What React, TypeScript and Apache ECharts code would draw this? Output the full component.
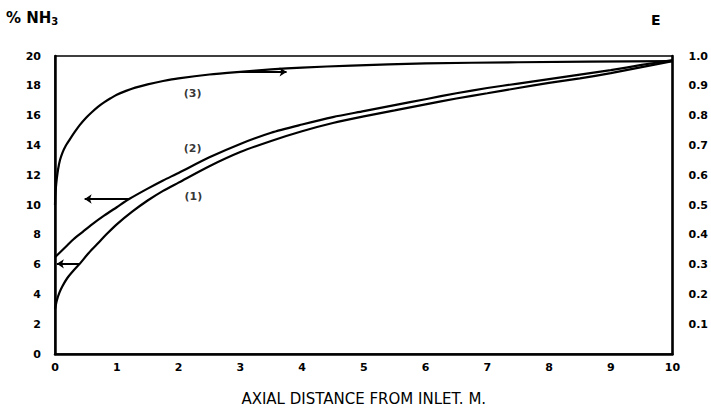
import React, { useEffect, useRef } from "react";
import * as echarts from "echarts";

// Curve (1): % NH3 vs axial distance (left axis)
const curve1: [number, number][] = [
  [0, 3.0], [0.03, 3.6], [0.07, 4.1], [0.12, 4.55], [0.2, 5.1], [0.3, 5.6], [0.4, 6.05],
  [0.55, 6.8], [0.7, 7.45], [0.85, 8.1], [1.0, 8.7], [1.25, 9.55], [1.5, 10.3],
  [1.75, 10.95], [2.0, 11.5], [2.5, 12.6], [3.0, 13.55], [3.5, 14.3], [4.0, 14.95],
  [4.5, 15.5], [5.0, 15.95], [5.5, 16.35], [6.0, 16.75], [6.5, 17.15], [7.0, 17.5],
  [7.5, 17.85], [8.0, 18.2], [8.5, 18.5], [9.0, 18.85], [9.5, 19.25], [10, 19.65],
];
// Curve (2): % NH3 vs axial distance (left axis)
const curve2: [number, number][] = [
  [0, 6.5], [0.1, 6.9], [0.2, 7.3], [0.3, 7.7], [0.45, 8.2], [0.6, 8.7], [0.8, 9.3],
  [1.0, 9.85], [1.2, 10.4], [1.5, 11.1], [1.75, 11.65], [2.0, 12.15], [2.5, 13.2],
  [3.0, 14.1], [3.5, 14.85], [4.0, 15.4], [4.5, 15.9], [5.0, 16.3], [5.5, 16.7],
  [6.0, 17.1], [6.5, 17.5], [7.0, 17.85], [7.5, 18.15], [8.0, 18.45], [8.5, 18.75],
  [9.0, 19.05], [9.5, 19.4], [10, 19.72],
];
// Curve (3): E vs axial distance (right axis)
const curve3: [number, number][] = [
  [0, 0.5], [0.005, 0.53], [0.015, 0.56], [0.03, 0.59], [0.05, 0.62], [0.08, 0.65],
  [0.12, 0.675], [0.17, 0.697], [0.24, 0.72], [0.32, 0.745], [0.4, 0.768], [0.5, 0.792],
  [0.6, 0.812], [0.7, 0.83], [0.8, 0.845], [0.9, 0.858], [1.0, 0.87], [1.15, 0.883],
  [1.3, 0.894], [1.5, 0.905], [1.75, 0.916], [2.0, 0.925], [2.5, 0.938], [3.0, 0.947],
  [3.5, 0.955], [4.0, 0.961], [4.8, 0.968], [6, 0.975], [7.5, 0.979], [10, 0.983],
];

// Arrows (from -> to), in left-axis units
const arrows: [number, number][][] = [
  [[1.2, 10.4], [0.48, 10.4]],
  [[0.4, 6.05], [0.03, 6.05]],
  [[3.0, 18.93], [3.75, 18.93]],
];

// Curve labels
const curveLabels: { name: string; pos: [number, number] }[] = [
  { name: "(3)", pos: [2.23, 17.5] },
  { name: "(2)", pos: [2.23, 13.8] },
  { name: "(1)", pos: [2.24, 10.6] },
];

const xTicks = { min: 0, max: 10, interval: 1 };
const leftTicks = { min: 0, max: 20, interval: 2 };
const rightTicks = { min: 0, max: 1, interval: 0.1 };

const FONT = "'DejaVu Sans', 'Liberation Sans', sans-serif";

export default function App() {
  const ref = useRef<HTMLDivElement>(null);
  useEffect(() => {
    if (!ref.current) return;
    const chart = echarts.init(ref.current, undefined, { renderer: "svg" });
    const lineStyle = { color: "#000", width: 2.2 };
    const common = { smooth: 0.25, showSymbol: false, lineStyle };
    chart.setOption({
      animation: false,
      backgroundColor: "#fff",
      grid: {
        left: 55, right: 37, top: 56, bottom: 55,
        show: true, borderColor: "#000", borderWidth: 1.5,
      },
      xAxis: {
        type: "value", ...xTicks,
        axisLine: { show: true, onZero: false, lineStyle: { color: "#000", width: 2.5 } },
        axisTick: { show: false },
        splitLine: { show: false },
        axisLabel: { color: "#000", fontFamily: FONT, fontWeight: "bold", fontSize: 11, margin: 8 },
        name: "AXIAL DISTANCE FROM INLET. M.",
        nameLocation: "middle",
        nameGap: 37,
        nameTextStyle: { color: "#000", fontFamily: FONT, fontSize: 15, letterSpacing: 1.7 },
      },
      yAxis: [
        {
          type: "value", ...leftTicks,
          axisLine: { show: true, lineStyle: { color: "#000", width: 2.5 } },
          axisTick: { show: false },
          splitLine: { show: false },
          axisLabel: { color: "#000", fontFamily: FONT, fontWeight: "bold", fontSize: 11, margin: 14 },
        },
        {
          type: "value", ...rightTicks, position: "right",
          axisLine: { show: true, lineStyle: { color: "#000", width: 2.5 } },
          axisTick: { show: false },
          splitLine: { show: false },
          axisLabel: {
            color: "#000", fontFamily: FONT, fontWeight: "bold", fontSize: 11, margin: 16,
            formatter: (v: number) => (v === 0 ? "" : v.toFixed(1)),
          },
        },
      ],
      graphic: [
        {
          type: "text", left: 6, top: 10,
          style: {
            text: "{a|% NH}{b|3}",
            rich: {
              a: { fontFamily: FONT, fontWeight: "bold", fontSize: 15, fill: "#000" },
              b: { fontFamily: FONT, fontWeight: "bold", fontSize: 10, fill: "#000", padding: [8, 0, 0, 0] },
            },
          },
        },
        {
          type: "text", left: 651, top: 13,
          style: { text: "E", fontFamily: FONT, fontWeight: "bold", fontSize: 14, fill: "#000" },
        },
      ],
      series: [
        { type: "line", data: curve1, yAxisIndex: 0, ...common },
        { type: "line", data: curve2, yAxisIndex: 0, ...common },
        { type: "line", data: curve3, yAxisIndex: 1, ...common },
        {
          type: "lines", coordinateSystem: "cartesian2d", yAxisIndex: 0,
          symbol: ["none", "arrow"], symbolSize: [0, 7],
          lineStyle: { color: "#000", width: 2, opacity: 1, curveness: 0 },
          data: arrows.map((c) => ({ coords: c })),
        },
        {
          type: "scatter", yAxisIndex: 0, symbolSize: 0,
          data: curveLabels.map((l) => ({ value: l.pos, name: l.name })),
          label: {
            show: true, position: "inside", formatter: (p: any) => p.name,
            color: "#000", fontFamily: FONT, fontWeight: "bold", fontSize: 11,
          },
        },
      ],
    });
    return () => chart.dispose();
  }, []);
  return <div ref={ref} style={{ width: 711, height: 411, position: "absolute", left: 0, top: 0 }} />;
}
